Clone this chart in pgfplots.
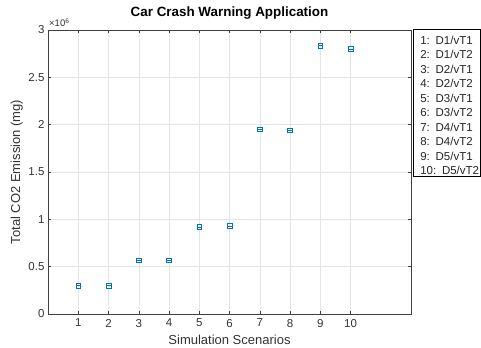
\documentclass[border=0pt]{standalone}
\usepackage{fontspec}
\setmainfont{Liberation Sans}
\usepackage{pgfplots}
\pgfplotsset{compat=1.18}
\definecolor{mblue}{rgb}{0,0.447,0.741}
\definecolor{axgray}{gray}{0.25}
\definecolor{txgray}{gray}{0.2}
\newcommand{\keyline}[1]{\hspace*{7bp}#1}
\begin{document}
\begin{tikzpicture}[x=1bp,y=1bp]
\useasboundingbox (0,0) rectangle (481,347);
\begin{axis}[
  at={(48bp,33bp)}, anchor=south west,
  scale only axis, width=363bp, height=284bp,
  xmin=0, xmax=12, ymin=0, ymax=3000000,
  xtick={1,...,10},
  ytick={0,500000,1000000,1500000,2000000,2500000,3000000},
  yticklabels={0,0.5,1,1.5,2,2.5,3},
  scaled y ticks=false,
  tick align=inside, major tick length=3bp,
  xtick pos=both, ytick pos=both,
  grid=major,
  major grid style={gray!20, line width=0.4bp},
  axis line style={axgray, line width=0.6bp},
  every tick/.style={axgray, line width=0.5bp},
  tick label style={font=\fontsize{11.5bp}{13bp}\selectfont, text=txgray},
  xticklabel style={yshift=-1.5bp},
  /pgf/number format/assume math mode=true,
  title={\bfseries Car Crash Warning Application},
  title style={font=\fontsize{13.4bp}{15bp}\selectfont, at={(rel axis cs:0.5,1.0271)}, anchor=base},
  xlabel={Simulation Scenarios},
  ylabel={Total CO2 Emission (mg)},
  label style={font=\fontsize{13bp}{15bp}\selectfont, text=txgray},
  xlabel style={at={(rel axis cs:0.5,-0.1081)}, anchor=base},
  ylabel style={at={(rel axis cs:-0.0771,0.5)}, anchor=base},
  clip=false,
]
% scenario totals, drawn as squares crossed by a horizontal bar
\addplot[only marks, mblue, mark=square, mark size=2.4bp, mark options={line width=0.7bp}, forget plot]
  coordinates {(1,300000) (2,300000) (3,567000) (4,567000) (5,920000)
               (6,930000) (7,1950000) (8,1940000) (9,2833000) (10,2800000)};
\addplot[only marks, mblue, mark=-, mark size=2.4bp, mark options={line width=0.7bp}, forget plot]
  coordinates {(1,300000) (2,300000) (3,567000) (4,567000) (5,920000)
               (6,930000) (7,1950000) (8,1940000) (9,2833000) (10,2800000)};
% scenario key
\node[anchor=north west, draw=black, line width=0.6bp, fill=white,
      inner sep=0bp, text width=67bp, align=left,
      font=\fontsize{11.5bp}{14.5bp}\selectfont, text=black!85]
  at (rel axis cs:1,1) [xshift=2bp, yshift=1bp]
  {\keyline{\rule{0pt}{15bp}1: D1/vT1}\\ \keyline{2: D1/vT2}\\ \keyline{3: D2/vT1}\\
   \keyline{4: D2/vT2}\\ \keyline{5: D3/vT1}\\ \keyline{6: D3/vT2}\\ \keyline{7: D4/vT1}\\
   \keyline{8: D4/vT2}\\ \keyline{9: D5/vT1}\\ \keyline{10: D5/vT2\rule[-1.5bp]{0pt}{1.5bp}}};
\node[anchor=base west, font=\fontsize{9.5bp}{11bp}\selectfont, text=txgray, inner sep=0pt]
  at (rel axis cs:0,1) [xshift=1bp, yshift=3bp] {×10\textsuperscript{6}};
\end{axis}
\end{tikzpicture}
\end{document}
